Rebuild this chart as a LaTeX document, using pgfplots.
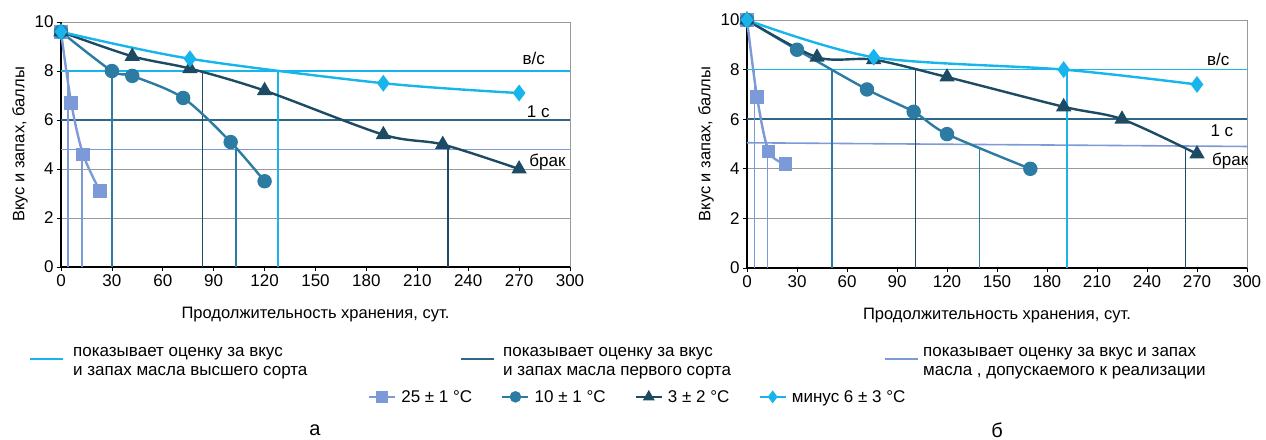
\documentclass[border=0pt]{standalone}
\usepackage{fontspec}
\setmainfont{Liberation Sans}
\usepackage{pgfplots}
\pgfplotsset{compat=1.18}
\definecolor{c25}{HTML}{7B9AD7}
\definecolor{c10}{HTML}{2B7BA3}
\definecolor{c3}{HTML}{1D4B63}
\definecolor{c6}{HTML}{18B4EC}
\definecolor{cfirst}{HTML}{2F6788}
\definecolor{cgrid}{HTML}{9A9A9A}
\newcommand\fs{\fontsize{16.5pt}{18pt}\selectfont}
\newcommand\ft{\fontsize{17pt}{18pt}\selectfont}
\newcommand\fl{\fontsize{17pt}{18.5pt}\selectfont}
\pgfplotsset{
 mystyle/.style={
  scale only axis, xmin=0,xmax=300,ymin=0,ymax=10,
  xtick={0,30,...,300}, ytick={0,2,...,10},
  axis lines*=left,
  ymajorgrids, grid style={cgrid, line width=0.8pt},
  tick align=outside, major tick length=4pt,
  tick style={black, line width=0.8pt},
  axis line style={black, line width=1.2pt},
  ticklabel style={font=\ft},
  label style={font=\fs},
  xlabel style={yshift=-14pt},
  /pgf/number format/assume math mode=true,
  clip=false,
  xlabel={Продолжительность хранения, сут.},
  ylabel={Вкус и запах, баллы},
  legend image code/.code={\draw[mark repeat=2,mark phase=2,##1] plot coordinates {(0pt,0pt)(13pt,0pt)(26pt,0pt)};},
 },
 ref/.style={line width=1.6pt, forget plot},
 drop/.style={line width=1.5pt, forget plot},
 s25/.style={c25, line width=2.4pt, smooth, mark=square*, mark size=5.5pt, mark options={fill=c25,draw=c25,solid}},
 s10/.style={c10, line width=2.4pt, smooth, mark=*, mark size=6pt, mark options={fill=c10,draw=c10,solid}},
 s3/.style={c3, line width=2.4pt, smooth, mark=triangle*, mark size=6.5pt, mark options={fill=c3,draw=c3,solid}},
 s6/.style={c6, line width=2.4pt, smooth, mark=diamond*, mark size=6.5pt, mark options={fill=c6,draw=c6,solid}},
}
\begin{document}
\begin{tikzpicture}[x=1pt,y=1pt]
\useasboundingbox (0,0) rectangle (1266,-439);
% ---------- chart a ----------
\begin{axis}[mystyle, width=509pt, height=245pt, at={(61pt,-267pt)}, anchor=south west,
  legend style={at={(axis description cs:1.133,-0.530)}, anchor=center, draw=none, fill=none,
    font=\fl, legend columns=4, inner sep=0pt,
    /tikz/every odd column/.append style={column sep=3pt},
    /tikz/every even column/.append style={column sep=27pt}},
  legend cell align=left,
  legend image post style={mark size=4.5pt}]
\draw[cgrid, line width=0.8pt] (rel axis cs:1,0) -- (rel axis cs:1,1);
% reference lines
\addplot[ref, c6] coordinates {(0,8) (300,8)};
\addplot[ref, cfirst] coordinates {(0,6) (300,6)};
\addplot[ref, c25] coordinates {(0,4.8) (300,4.8)};
% drop lines
\addplot[drop, c25] coordinates {(4,0) (4,8)};
\addplot[drop, c25] coordinates {(12.5,0) (12.5,4.8)};
\addplot[drop, c10] coordinates {(30,0) (30,8)};
\addplot[drop, c10] coordinates {(103,0) (103,4.8)};
\addplot[drop, c3] coordinates {(83.5,0) (83.5,8)};
\addplot[drop, c3] coordinates {(228,0) (228,4.9)};
\addplot[drop, c6] coordinates {(128,0) (128,8)};
% series
\addplot[s25] coordinates {(0,9.6)(6,6.7)(13,4.6)(23,3.1)};
\addlegendentry{25 ± 1 °C}
\addplot[s10] coordinates {(0,9.6)(30,8.0)(42,7.8)(72,6.9)(100,5.1)(120,3.5)};
\addlegendentry{10 ± 1 °C}
\addplot[s3] coordinates {(0,9.6)(42,8.6)(76,8.1)(120,7.2)(190,5.4)(225,5.0)(270,4.0)};
\addlegendentry{3 ± 2 °C}
\addplot[s6] coordinates {(0,9.6)(76,8.5)(190,7.5)(270,7.1)};
\addlegendentry{минус 6 ± 3 °C}
\node[anchor=west, font=\ft, inner sep=0pt] at (axis cs:272,8.5) {в/с};
\node[anchor=west, font=\ft, inner sep=0pt] at (axis cs:274.5,6.35) {1 с};
\node[anchor=west, font=\ft, inner sep=0pt] at (axis cs:276,4.3) {брак};
\end{axis}
% ---------- chart b ----------
\begin{axis}[mystyle, width=500pt, height=248pt, at={(747pt,-268pt)}, anchor=south west]
\draw[cgrid, line width=0.8pt] (rel axis cs:1,0) -- (rel axis cs:1,1);
\addplot[ref, c6] coordinates {(0,8) (300,8)};
\addplot[ref, cfirst] coordinates {(0,6) (300,6)};
\addplot[ref, c25] coordinates {(0,5.05) (300,4.9)};
\addplot[drop, c25] coordinates {(4.5,0) (4.5,8)};
\addplot[drop, c25] coordinates {(12.3,0) (12.3,5.0)};
\addplot[drop, c10] coordinates {(51,0) (51,8)};
\addplot[drop, c10] coordinates {(139.5,0) (139.5,4.87)};
\addplot[drop, c3] coordinates {(101,0) (101,8.05)};
\addplot[drop, c3] coordinates {(263,0) (263,4.85)};
\addplot[drop, c6] coordinates {(192,0) (192,8)};
\addplot[s25] coordinates {(0,10)(6,6.9)(13,4.7)(23,4.2)};
\addplot[s10] coordinates {(0,10)(30,8.8)(72,7.2)(100,6.3)(120,5.4)(170,4.0)};
\addplot[s3] coordinates {(0,10)(42,8.5)(76,8.4)(120,7.7)(190,6.5)(225,6.0)(270,4.6)};
\addplot[s6] coordinates {(0,10)(76,8.5)(190,8.0)(270,7.4)};
\node[anchor=west, font=\ft, inner sep=0pt] at (axis cs:276,8.4) {в/с};
\node[anchor=west, font=\ft, inner sep=0pt] at (axis cs:278,5.55) {1 с};
\node[anchor=west, font=\ft, inner sep=0pt] at (axis cs:279,4.3) {брак};
\end{axis}
% ---------- line legend ----------
\draw[c6, line width=2pt] (30,-359) -- (63,-359);
\node[anchor=west, align=left, font=\fl, inner sep=0pt] at (73,-363) {показывает оценку за вкус\\и запах масла высшего сорта};
\draw[cfirst, line width=2pt] (461,-359) -- (494,-359);
\node[anchor=west, align=left, font=\fl, inner sep=0pt] at (503,-363) {показывает оценку за вкус\\и запах масла первого сорта};
\draw[c25, line width=2pt] (885,-359) -- (918,-359);
\node[anchor=west, align=left, font=\fl, inner sep=0pt] at (923,-363) {показывает оценку за вкус и запах\\масла , допускаемого к реализации};
\node[font=\fontsize{20pt}{22pt}\selectfont] at (315,-430) {а};
\node[font=\fontsize{20pt}{22pt}\selectfont] at (997,-430) {б};
\end{tikzpicture}
\end{document}
